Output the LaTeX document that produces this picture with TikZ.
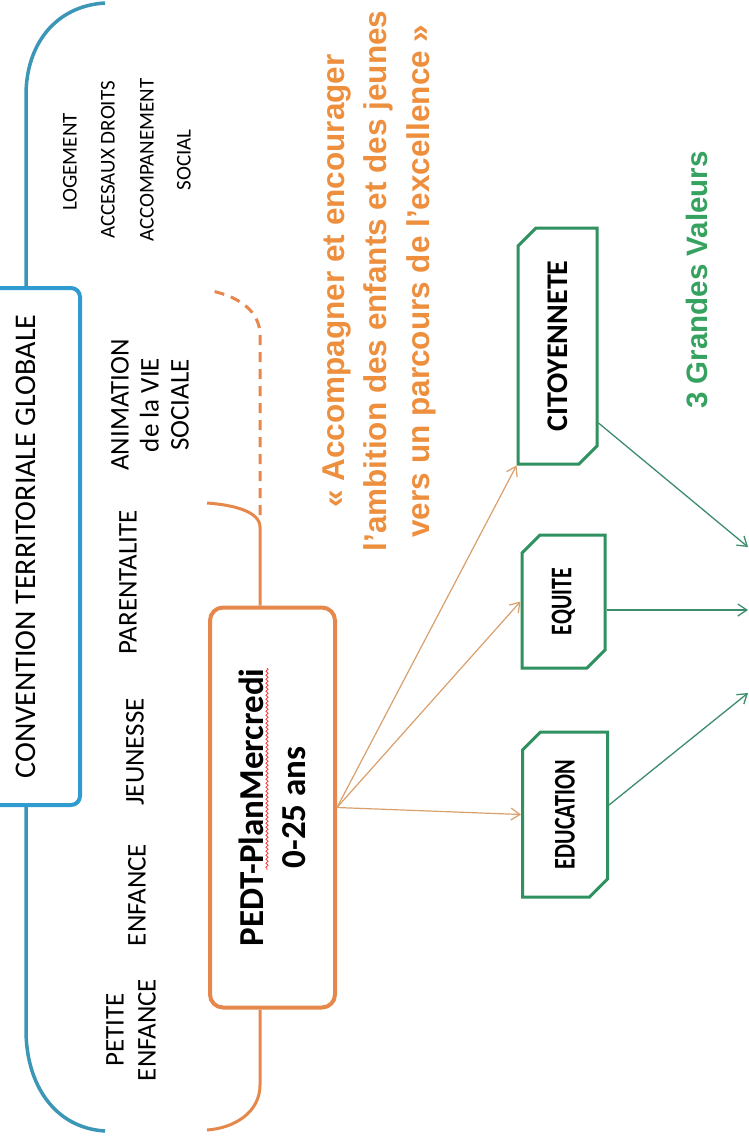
\documentclass[tikz,border=0pt]{standalone}
\usepackage{fontspec}
\setmainfont{Carlito}
\newfontfamily\arialf{Liberation Sans}
\usetikzlibrary{arrows.meta,shapes.misc,decorations.pathmorphing}
\definecolor{cblue}{HTML}{2F9BD0}
\definecolor{cline}{HTML}{3C96B6}
\definecolor{corange}{HTML}{E6884C}
\definecolor{ctext}{HTML}{EE8F3E}
\definecolor{carrow}{HTML}{D9A06C}
\definecolor{cgreen}{HTML}{2F9160}
\definecolor{cgtext}{HTML}{36A25F}
\definecolor{cgarrow}{HTML}{3D8C6C}
\tikzset{
  lbl/.style={rotate=90, font=\fontsize{27}{30}\selectfont, inner sep=0pt, align=center},
  slbl/.style={rotate=90, font=\fontsize{21}{24}\selectfont, inner sep=0pt},
  gbox/.style={rotate=90, chamfered rectangle, chamfered rectangle corners={north east,south west},
    chamfered rectangle xsep=9pt, chamfered rectangle ysep=9pt, draw=cgreen, line width=3pt,
    font=\bfseries\fontsize{30}{32}\selectfont, inner sep=0pt},
  bbr/.style={draw=cline, line width=3.5pt},
  obr/.style={draw=corange, line width=3pt},
  oarrow/.style={draw=carrow, line width=1.2pt, -{Straight Barb[length=9pt,width=12pt]}},
  garrow/.style={draw=cgarrow, line width=1.3pt, -{Straight Barb[length=9pt,width=12pt]}},
}
\begin{document}
\begin{tikzpicture}[x=1pt,y=-1pt]
\useasboundingbox (0,0) rectangle (749,1136);
\clip (0,0) rectangle (749,1136);
\fill[white] (0,0) rectangle (749,1136);

% blue box and bracket
\node[rotate=90, draw=cblue, line width=4pt, rounded corners=9pt, minimum width=517pt, minimum height=108pt,
  font=\fontsize{30}{33}\selectfont, inner sep=0pt] (conv) at (26,546.5) {CONVENTION TERRITORIALE GLOBALE};
\coordinate (bt) at (105,3);
\coordinate (bb) at (105,1131);
\draw[bbr] (conv.east) -- (26,95) .. controls (26,45) and (55,6) .. (bt);
\draw[bbr] (conv.west) -- (26,1030) .. controls (26,1085) and (55,1128) .. (bb);

% small labels
\node[slbl] (logem) at (70,162) {LOGEMENT};
\node[slbl] (acces) at (108,160) {ACCESAUX DROITS};
\node[slbl] (accomp) at (147,160) {ACCOMPANEMENT};
\node[slbl] (social) at (184,160) {SOCIAL};

\node[lbl] (anim) at (150,405) {ANIMATION\\de la VIE\\SOCIALE};
\node[lbl] (parent) at (128,582) {PARENTALITE};
\node[lbl] (jeun) at (135,752) {JEUNESSE};
\node[lbl] (enf) at (137,895) {ENFANCE};
\node[lbl, font=\fontsize{27}{32}\selectfont] (petite) at (131,1030) {PETITE\\ENFANCE};

% orange box and bracket
\node[rotate=90, draw=corange, line width=4pt, rounded corners=13pt, minimum width=400pt, minimum height=125pt,
  font=\bfseries\fontsize{35}{42}\selectfont, align=center, inner sep=0pt] (pedt) at (272.5,807.5)
  {PEDT-PlanMercredi\\0-25 ans};
\draw[red!85!white, line width=0.7pt, decorate, decoration={snake, amplitude=1.2pt, segment length=4pt}]
  (267,668) -- (267,870);
\coordinate (ox) at (260,0);
\coordinate (ot1) at (207,503);
\coordinate (ot2) at (212,291);
\coordinate (ob) at (207,1130);
\draw[obr] (pedt.east -| ox) -- (260,527) .. controls (260,512) and (235,505) .. (ot1);
\draw[obr, dash pattern=on 10pt off 7pt] (260,515) -- (260,335) .. controls (260,312) and (240,297) .. (ot2);
\draw[obr] (pedt.west -| ox) -- (260,1085) .. controls (260,1112) and (235,1128) .. (ob);

% quote
\node[rotate=90, text=ctext, font=\arialf\bfseries\fontsize{31.5}{42.5}\selectfont, align=center, inner sep=0pt]
  (quote) at (379,281)
  {« Accompagner et encourager\\l’ambition des enfants et des jeunes\\vers un parcours de l’excellence »};

% green boxes
\node[gbox, minimum width=236pt, minimum height=79pt] (cito) at (557.5,346) {CITOYENNETE};
\node[gbox, minimum width=133pt, minimum height=83pt] (equi) at (563.5,601.5) {\scalebox{0.73}[1]{EQUITE}};
\node[gbox, minimum width=165pt, minimum height=85pt] (educ) at (565,814.5) {\scalebox{0.74}[1]{EDUCATION}};

\node[rotate=90, text=cgtext, font=\arialf\bfseries\fontsize{29.5}{32}\selectfont, inner sep=0pt] (valeurs) at (697,280)
  {3 Grandes Valeurs};

% orange arrows
\draw[oarrow] (pedt.south) -- (cito.north west);
\draw[oarrow] (pedt.south) -- (equi.north);
\draw[oarrow] (pedt.south) -- (educ.north);

% green arrows
\coordinate (t1) at (748,547);
\coordinate (t2) at (748,610);
\coordinate (t3) at (748,693);
\draw[garrow] (cito.south |- 0,423) -- (t1);
\draw[garrow] (equi.south |- t2) -- (t2);
\draw[garrow] (educ.south |- 0,805) -- (t3);
\end{tikzpicture}
\end{document}
